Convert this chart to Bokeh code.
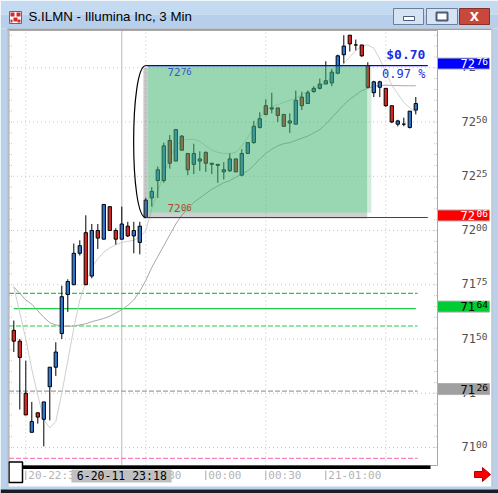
from bokeh.plotting import figure
from bokeh.models import Range1d
from bokeh.core.properties import value
from bokeh.embed import file_html
from bokeh.resources import INLINE

# ---------------------------------------------------------------- data
# 3-minute bars for ILMN, 20 Jun 2011 22:24 onwards
opens = [71.54, 71.49, 71.25, 71.07, 71.16, 71.13, 71.28, 71.37, 71.525, 71.705,
         71.75, 71.895, 71.99, 71.79, 72.00, 71.96, 72.11, 72.00, 71.96, 72.02,
         71.975, 71.945, 72.06, 72.15, 72.23, 72.23, 72.415, 72.32, 72.435, 72.355,
         72.305, 72.32, 72.36, 72.305, 72.30, 72.27, 72.275, 72.33, 72.255, 72.355,
         72.405, 72.475, 72.575, 72.56, 72.565, 72.535, 72.495, 72.49, 72.615, 72.585,
         72.64, 72.655, 72.675, 72.68, 72.725, 72.81, 72.90, 72.855, 72.855, 72.76,
         72.635, 72.66, 72.655, 72.575, 72.49, 72.49, 72.475, 72.555]
highs = [71.585, 71.50, 71.40, 71.21, 71.16, 71.21, 71.37, 71.485, 71.745, 71.775,
         71.94, 71.955, 72.07, 72.03, 72.03, 72.12, 72.11, 72.01, 72.11, 72.04,
         72.04, 72.04, 72.15, 72.20, 72.295, 72.405, 72.44, 72.465, 72.44, 72.355,
         72.40, 72.365, 72.365, 72.31, 72.305, 72.315, 72.355, 72.33, 72.375, 72.405,
         72.505, 72.545, 72.605, 72.635, 72.565, 72.535, 72.54, 72.645, 72.64, 72.645,
         72.665, 72.70, 72.78, 72.745, 72.81, 72.90, 72.90, 72.88, 72.855, 72.775,
         72.69, 72.69, 72.655, 72.575, 72.51, 72.52, 72.55, 72.615]
lows = [71.44, 71.175, 71.15, 71.07, 71.11, 71.005, 71.125, 71.33, 71.50, 71.625,
        71.75, 71.885, 71.75, 71.78, 71.915, 71.96, 72.00, 71.935, 71.96, 71.97,
        71.895, 71.89, 72.06, 72.11, 72.15, 72.22, 72.285, 72.32, 72.37, 72.255,
        72.26, 72.275, 72.27, 72.26, 72.22, 72.235, 72.27, 72.27, 72.25, 72.355,
        72.40, 72.47, 72.53, 72.54, 72.50, 72.48, 72.45, 72.49, 72.555, 72.585,
        72.635, 72.65, 72.675, 72.665, 72.72, 72.77, 72.825, 72.83, 72.80, 72.655,
        72.615, 72.615, 72.57, 72.495, 72.48, 72.48, 72.47, 72.535]
closes = [71.49, 71.415, 71.15, 71.12, 71.14, 71.21, 71.37, 71.44, 71.695, 71.765,
          71.895, 71.93, 71.75, 72.00, 71.965, 72.12, 72.00, 71.96, 72.03, 71.975,
          72.00, 72.02, 72.14, 72.18, 72.28, 72.39, 72.31, 72.465, 72.37, 72.28,
          72.355, 72.33, 72.31, 72.31, 72.305, 72.28, 72.33, 72.27, 72.355, 72.405,
          72.48, 72.515, 72.535, 72.565, 72.53, 72.48, 72.505, 72.60, 72.575, 72.635,
          72.655, 72.675, 72.69, 72.73, 72.805, 72.85, 72.86, 72.855, 72.805, 72.66,
          72.685, 72.685, 72.575, 72.50, 72.505, 72.49, 72.55, 72.585]
bars = list(range(len(opens)))

# moving averages as plotted by the platform
ma_slow = [71.74, 71.71, 71.68, 71.66, 71.63, 71.60, 71.575, 71.565, 71.56, 71.558,
           71.56, 71.565, 71.57, 71.58, 71.587, 71.595, 71.605, 71.62, 71.635, 71.655,
           71.68, 71.72, 71.77, 71.83, 71.88, 71.93, 71.98, 72.03, 72.07, 72.10,
           72.13, 72.15, 72.17, 72.19, 72.205, 72.22, 72.23, 72.245, 72.26, 72.275,
           72.30, 72.33, 72.355, 72.375, 72.39, 72.40, 72.405, 72.415, 72.425, 72.435,
           72.45, 72.465, 72.49, 72.52, 72.55, 72.58, 72.605, 72.625, 72.645, 72.655,
           72.665, 72.668, 72.67, 72.668, 72.668, 72.667, 72.667, 72.667]
ma_fast = [71.74, 71.62, 71.50, 71.36, 71.24, 71.13, 71.09, 71.12, 71.25, 71.40,
           71.55, 71.68, 71.76, 71.83, 71.87, 71.90, 71.92, 71.935, 71.945, 71.95,
           71.955, 71.97, 72.00, 72.10, 72.18, 72.26, 72.33, 72.39, 72.415, 72.42,
           72.42, 72.41, 72.39, 72.37, 72.36, 72.355, 72.355, 72.36, 72.39, 72.43,
           72.47, 72.52, 72.55, 72.57, 72.58, 72.59, 72.60, 72.61, 72.625, 72.64,
           72.65, 72.665, 72.68, 72.71, 72.735, 72.77, 72.80, 72.83, 72.85, 72.855,
           72.84, 72.79, 72.73, 72.67, 72.63, 72.59, 72.565, 72.545]

price_ticks = [71.00, 71.25, 71.50, 71.75, 72.00, 72.25, 72.50, 72.75]
price_step_minor = 0.05
time_ticks = [2, 12, 22, 32, 42, 52]
time_labels = ["20-22:30", "23:00", "23:30", "00:00", "00:30", "21-01:00"]
grid_bars = [2, 22, 42, 62]

# measured move: low -> high
range_low = 72.06
range_high = 72.76
range_start_bar = 22
range_end_bar = 59

crosshair_bar = 18
crosshair_text = "6-20-11 23:18"

level_mid = 71.64
level_band = [71.71, 71.56]
level_gray = 71.26
level_pink = 70.95

caption = "S.ILMN - Illumina Inc, 3 Min"

# ---------------------------------------------------------------- page geometry
W, H = 498, 493
BAR0_PX, BAR_W = 13.3, 6.0          # centre of the first bar, pixels per bar
P0, P0_PX, PX_PER_PRICE = 71.0, 447.0, 217.0
CL, CR, CT, CB = 8.5, 437.0, 30.0, 465.0   # chart pane on the page


def px_bar(x):
    return (x - BAR0_PX) / BAR_W


def px_price(y):
    return P0 + (P0_PX - y) / PX_PER_PRICE


XL, XR = px_bar(CL), px_bar(CR)
YB, YT = px_price(CB), px_price(CT)

MONO = value("DejaVu Sans Mono")
PX = dict(x_range_name="px", y_range_name="px")


def price_digits(v):
    s = f"{round(v * 100):04d}"
    return s[:2], s[2:]


p = figure(width=W, height=H, output_backend="svg", toolbar_location=None,
           title=None, x_axis_type=None, y_axis_type=None,
           x_range=Range1d(px_bar(0), px_bar(W)),
           y_range=Range1d(px_price(H), px_price(0)),
           min_border=0, outline_line_color=None,
           background_fill_color="white", border_fill_color="white")
# page-pixel ranges for the window furniture (y grows downwards)
p.extra_x_ranges = {"px": Range1d(0, W)}
p.extra_y_ranges = {"px": Range1d(H, 0)}

# ---------------------------------------------------------------- chart pane
# dotted grid
p.segment(x0=[XL] * len(price_ticks), x1=[XR] * len(price_ticks),
          y0=price_ticks, y1=price_ticks, line_color="#c4c4c4", line_dash="1 3")
p.segment(x0=grid_bars, x1=grid_bars, y0=[YB] * len(grid_bars), y1=[YT] * len(grid_bars),
          line_color="#c4c4c4", line_dash="1 3")
minor = [round(price_ticks[0] + price_step_minor * k, 2)
         for k in range(int((YT - price_ticks[0]) / price_step_minor) + 1)]
p.segment(x0=[XR - 0.6] * len(minor), x1=[XR] * len(minor), y0=minor, y1=minor,
          line_color="#c8c8c8", line_dash="1 1")
p.segment(x0=[XL] * len(minor), x1=[XL + 0.6] * len(minor), y0=minor, y1=minor,
          line_color="#c8c8c8", line_dash="1 1")

# crosshair
p.segment(x0=[crosshair_bar], x1=[crosshair_bar], y0=[YB], y1=[YT],
          line_color="#b8b8b8", line_width=1)

# horizontal levels
line_end = bars[-1] + 0.3
p.segment(x0=[XL] * 2, x1=[line_end] * 2, y0=level_band, y1=level_band,
          line_color="#22cc44", line_width=1.2, line_dash="5 2")
p.segment(x0=[bars[0]], x1=[bars[-1]], y0=[level_mid], y1=[level_mid],
          line_color="#22cc44", line_width=1.2)
p.segment(x0=[XL], x1=[line_end], y0=[level_gray], y1=[level_gray],
          line_color="#a0a0a0", line_width=1.2, line_dash="5 2")
p.segment(x0=[XL], x1=[line_end], y0=[level_pink], y1=[level_pink],
          line_color="#ff80c0", line_width=1.2, line_dash="5 2")

# moving averages
p.line(bars, ma_slow, line_color="#a8a8a8", line_width=1)
p.line(bars, ma_fast, line_color="#d0d0d0", line_width=1)

# candles
body_top = [max(o, c) for o, c in zip(opens, closes)]
body_bot = [min(o, c) for o, c in zip(opens, closes)]
colors = ["#2a7ad6" if c >= o else "#e02424" for o, c in zip(opens, closes)]
p.segment(x0=bars, x1=bars, y0=lows, y1=highs, line_color="black", line_width=1)
p.vbar(x=bars, width=0.55, top=body_top, bottom=body_bot, fill_color=colors,
       line_color="black", line_width=1)

# measured-move box with drop shadow
shade_l = range_start_bar + 0.3
shade_r = range_end_bar - 0.1
p.quad(left=[shade_l - 0.7], right=[shade_l], bottom=[range_low - 0.005],
       top=[range_high - 0.01], fill_color="#606060", fill_alpha=0.35, line_color=None)
p.quad(left=[shade_l - 0.7], right=[shade_r], bottom=[range_low - 0.005],
       top=[range_low + 0.022], fill_color="#606060", fill_alpha=0.3, line_color=None)
p.quad(left=[shade_l], right=[shade_r], bottom=[range_low + 0.022],
       top=[range_high], fill_color="#46b473", fill_alpha=0.55, line_color=None)
p.quad(left=[shade_r], right=[shade_r + 0.7], bottom=[range_low + 0.022],
       top=[range_high], fill_color="#46b473", fill_alpha=0.25, line_color=None)

ray_end = 69.0
p.segment(x0=[range_start_bar], x1=[ray_end], y0=[range_high], y1=[range_high],
          line_color="#0000ff", line_width=1.2)
p.segment(x0=[range_start_bar], x1=[ray_end], y0=[range_low], y1=[range_low],
          line_color="#e00000", line_width=1.2)

# bracket joining low and high
p.bezier(x0=[range_start_bar], y0=[range_high], x1=[range_start_bar], y1=[range_low],
         cx0=[range_start_bar - 2.7], cy0=[range_high],
         cx1=[range_start_bar - 2.7], cy1=[range_low],
         line_color="black", line_width=1.2)

# price captions inside the box: big handle, small cents
label_bar = range_start_bar + 3.6
for price, col, base, off in [(range_high, "#3a55c8", "top", 2),
                              (range_low, "#b04a30", "bottom", -5)]:
    big, small = price_digits(price)
    p.text(x=[label_bar], y=[price], text=[big], text_font=MONO,
           text_font_size="11px", text_color=col, text_baseline=base, y_offset=off)
    p.text(x=[label_bar], y=[price], text=[small], text_font=MONO,
           text_font_size="9px", text_color=col, text_baseline=base,
           y_offset=off - (1 if base == "bottom" else 0), x_offset=13.5)

move = range_high - range_low
pct = move / range_low * 100
p.text(x=[68.6], y=[range_high], text=[f"${move:.2f}"], text_font=MONO,
       text_font_size="13px", text_font_style="bold", text_color="#1a2ee0",
       text_align="right", text_baseline="bottom", y_offset=-4)
p.text(x=[68.6], y=[range_high], text=[f"{pct:.2f} %"], text_font=MONO,
       text_font_size="12px", text_color="#1a2ee0",
       text_align="right", text_baseline="top", y_offset=1)

# pane border
p.quad(left=[CL], right=[CR], top=[CT], bottom=[CB], fill_color=None,
       line_color="#a8a8a8", line_width=1, **PX)

# ---------------------------------------------------------------- price scale
big_lbl = [price_digits(t)[0] for t in price_ticks]
small_lbl = [price_digits(t)[1] for t in price_ticks]
p.text(x=[461] * len(price_ticks), y=price_ticks, text=big_lbl, x_range_name="px",
       text_font=MONO, text_font_size="12px", text_color="#505050",
       text_baseline="middle", y_offset=-1)
p.text(x=[475.5] * len(price_ticks), y=price_ticks, text=small_lbl, x_range_name="px",
       text_font=MONO, text_font_size="9.5px", text_color="#505050",
       text_baseline="middle", y_offset=-3)

# price tags
tag_prices = [range_high, range_low, level_mid, level_gray]
tag_fill = ["#0000ff", "#ff0000", "#00cc33", "#a0a0a0"]
tag_text = ["white", "white", "black", "black"]
p.quad(left=[437] * 4, right=[489] * 4,
       top=[v + 7.5 / PX_PER_PRICE for v in tag_prices],
       bottom=[v - 3.5 / PX_PER_PRICE for v in tag_prices],
       fill_color=tag_fill, line_color="#b0b0b0", line_width=1, x_range_name="px")
p.text(x=[474.5] * 4, y=tag_prices, text=[price_digits(v)[0] for v in tag_prices],
       x_range_name="px", text_font=MONO, text_font_size="12px", text_color=tag_text,
       text_align="right", text_baseline="middle", y_offset=-2)
p.text(x=[487.5] * 4, y=tag_prices, text=[price_digits(v)[1] for v in tag_prices],
       x_range_name="px", text_font=MONO, text_font_size="9.5px", text_color=tag_text,
       text_align="right", text_baseline="middle", y_offset=-4)

# ---------------------------------------------------------------- time scale
axis_end_bar = 69.45
p.quad(left=[XL], right=[axis_end_bar], top=[465], bottom=[468.5], y_range_name="px",
       fill_color="black", line_color=None)
p.segment(x0=time_ticks, x1=time_ticks, y0=[470] * len(time_ticks),
          y1=[479.5] * len(time_ticks), y_range_name="px", line_color="#a8a8a8")
p.text(x=time_ticks, y=[475] * len(time_ticks), text=time_labels, y_range_name="px",
       x_offset=2.5, text_font=MONO, text_font_size="11px", text_color="#b4b4b4",
       text_baseline="middle")

# crosshair time tag
p.quad(left=[crosshair_bar - 8.4], right=[crosshair_bar + 8.3], top=[469], bottom=[482],
       y_range_name="px", fill_color="#c0c0c0", line_color=None)
p.text(x=[crosshair_bar], y=[475.5], text=[crosshair_text], y_range_name="px",
       text_font=MONO, text_font_size="11.5px", text_color="black",
       text_align="center", text_baseline="middle")

# scroll handle and scroll arrow
p.quad(left=[8.5], right=[22], top=[461.5], bottom=[482], fill_color="white",
       line_color="black", line_width=1.5, **PX)
p.patch(x=[474, 482, 482, 490, 482, 482, 474], y=[471, 471, 467, 474, 481, 477, 477],
        fill_color="#ff0000", line_color="#b00000", line_width=1, **PX)

# ---------------------------------------------------------------- window frame
frame_l = [0, 0, 0, 491, 0, 0, 7, 7, 491]
frame_r = [W, W, 7, W, W, W, 491, 8, 492]
frame_t = [0, 14, 28, 28, 486, 489, 28, 28, 28]
frame_b = [14, 28, H, H, 489, H, 29.5, 486, 486]
frame_c = ["#c4daf1", "#b7cfea", "#b9d1ea", "#b9d1ea", "#b9d1ea", "#1c1c24",
           "#a0a0a0", "#a0a0a0", "#c0c0c0"]
p.quad(left=frame_l, right=frame_r, top=frame_t, bottom=frame_b, fill_color=frame_c,
       line_color=None, **PX)

# window icon
p.quad(left=[9, 10, 16, 13, 10, 17], right=[21, 14, 20, 17, 12, 20],
       top=[11, 12, 12, 17, 19, 19], bottom=[23, 16, 16, 21, 22, 22],
       fill_color=["white", "#d42a2a", "#d42a2a", "#d42a2a", "#d42a2a", "#d42a2a"],
       line_color=["#c04040", None, None, None, None, None], **PX)
p.text(x=[28], y=[16], text=[caption], text_font=value("Liberation Sans"),
       text_font_size="13.3px", text_color="black", text_baseline="middle", **PX)

# caption buttons
p.quad(left=[393, 426, 459], right=[423, 457, 489], top=[8, 8, 8], bottom=[24, 24, 24],
       fill_color=["#d6e3f3", "#d6e3f3", "#c9483c"],
       line_color=["#6b7f9c", "#6b7f9c", "#8a2f26"], **PX)
p.quad(left=[403, 436], right=[414, 447], top=[16, 12], bottom=[20, 20],
       fill_color="white", line_color="#4a5a7a", line_width=[1, 2], **PX)
p.text(x=[474], y=[16.5], text=["X"], text_font=value("DejaVu Sans"),
       text_font_size="12px", text_font_style="bold", text_color="white",
       text_align="center", text_baseline="middle", **PX)

open("out.html", "w").write(file_html(p, INLINE))
